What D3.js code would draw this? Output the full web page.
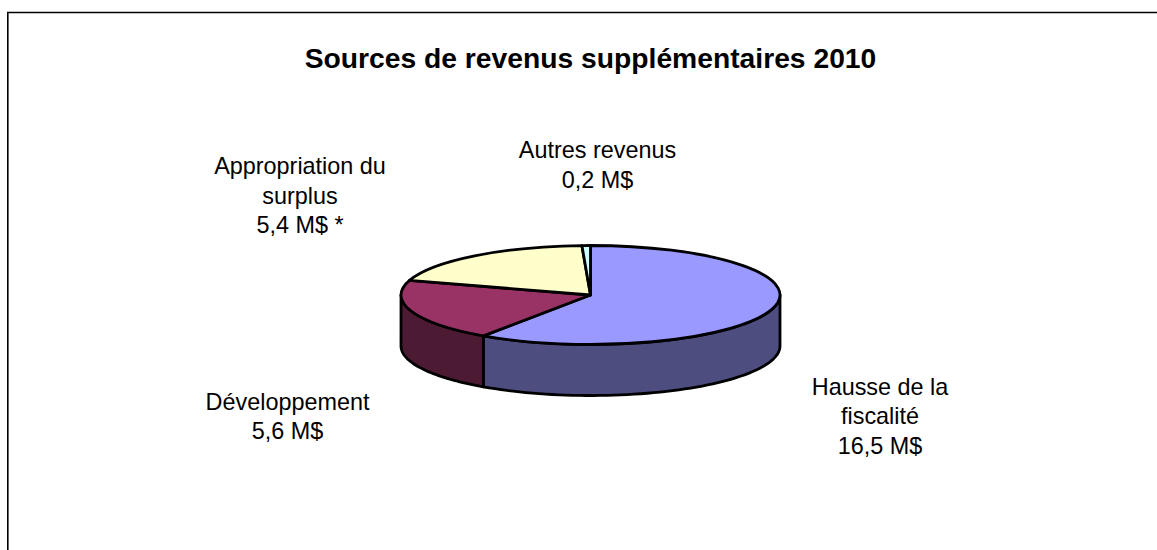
<!DOCTYPE html>
<html><head><meta charset="utf-8">
<script src="https://cdn.jsdelivr.net/npm/d3@7"></script>
<style>html,body{margin:0;padding:0;background:#fff}svg{display:block}text{font-family:"Liberation Sans",Arial,sans-serif;fill:#000}</style>
</head><body><svg id="c" width="1157" height="550"></svg>
<script>
const categories = ["Hausse de la fiscalité","Développement","Appropriation du surplus","Autres revenus"];
const values = [16.5,5.6,5.4,0.2];
const topColors = ["#9999ff","#993366","#ffffcc","#ccffff"];
const sideColors = ["#4d4d80","#4d1a33","#808066","#668080"];
const titleText = "Sources de revenus supplémentaires 2010";
const labelLines = [["Hausse de la","fiscalité","16,5 M$"],["Développement","5,6 M$"],["Appropriation du","surplus","5,4 M$ *"],["Autres revenus","0,2 M$"]];
const labelPos = [[880,394.5],[287.5,409.5],[300,174],[597.5,158]];

const svg = d3.select("#c");
const cx=590.5, cy=295, rx=189.5, ry=49.5, depth=51;
svg.append("path").attr("d",d3.line()([[7.8,550],[7.8,12.5],[1157,12.5]])).attr("fill","none").attr("stroke","#000").attr("stroke-width",1.6);
svg.append("text").attr("x",590.5).attr("y",68).attr("text-anchor","middle").attr("font-size",28.25).attr("font-weight","bold").text(titleText);

const pie = d3.pie().sort(null).value(d=>d);
const arcs = pie(values);
const px = a=>cx+rx*Math.sin(a), py=a=>cy-ry*Math.cos(a);
const line = d3.line();
const lo=Math.PI/2, hi=3*Math.PI/2;
arcs.forEach((d,i)=>{
  const a0=Math.max(d.startAngle,lo), a1=Math.min(d.endAngle,hi);
  if(a1<=a0) return;
  const as=d3.range(0,61).map(k=>a0+(a1-a0)*k/60);
  const pts=as.map(a=>[px(a),py(a)]).concat(as.slice().reverse().map(a=>[px(a),py(a)+depth]));
  svg.append("path").attr("d",line(pts)+"Z").attr("fill",sideColors[i]).attr("stroke","#000").attr("stroke-width",2.8).attr("stroke-linejoin","round");
});
const arc=d3.arc().innerRadius(0).outerRadius(rx);
const g=svg.append("g").attr("transform",`translate(${cx},${cy}) scale(1,${ry/rx})`);
g.selectAll("path").data(arcs).join("path").attr("d",arc).attr("fill",(d,i)=>topColors[i])
 .attr("stroke","#000").attr("stroke-width",2.8).attr("stroke-linejoin","round").attr("vector-effect","non-scaling-stroke");

labelLines.forEach((ls,i)=>{
  const t=svg.append("text").attr("text-anchor","middle").attr("font-size",23.4);
  ls.forEach((s,j)=>t.append("tspan").attr("x",labelPos[i][0]).attr("y",labelPos[i][1]+j*29.7).text(s));
});
</script></body></html>
